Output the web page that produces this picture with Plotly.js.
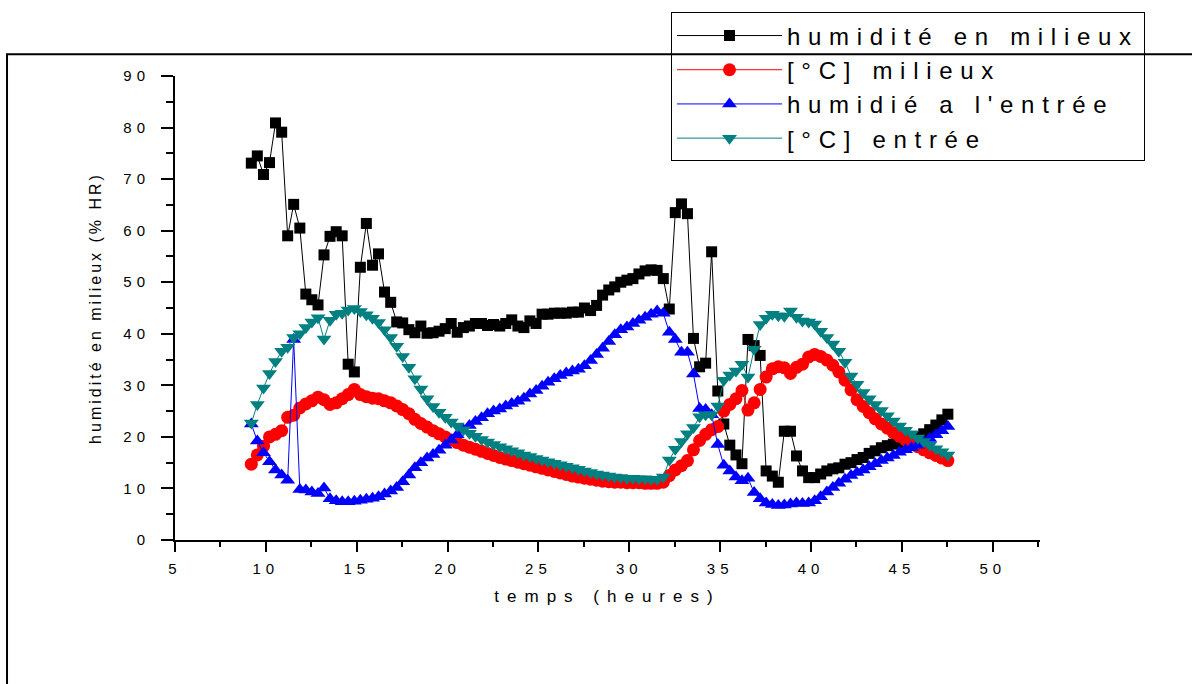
<!DOCTYPE html>
<html>
<head>
<meta charset="utf-8">
<script src="https://cdn.plot.ly/plotly-3.0.1.min.js"></script>
<style>
  html, body { margin: 0; padding: 0; background: #fff; }
  #chart { width: 1192px; height: 684px; }
  .xtick text, .ytick text { letter-spacing: 5px; }
  .legendtext { letter-spacing: 7.7px; }
  .g-xtitle text { letter-spacing: 8px; }
  .g-ytitle text { letter-spacing: 3px; }
</style>
</head>
<body>
<div id="chart"></div>
<script>
// time (heures)
const temps = [9.20, 9.53, 9.87, 10.20, 10.53, 10.87, 11.20, 11.53, 11.87, 12.20,
  12.53, 12.87, 13.20, 13.53, 13.87, 14.20, 14.53, 14.87, 15.20, 15.53,
  15.87, 16.20, 16.53, 16.87, 17.20, 17.53, 17.87, 18.20, 18.53, 18.87,
  19.20, 19.53, 19.87, 20.20, 20.53, 20.87, 21.20, 21.53, 21.87, 22.20,
  22.53, 22.87, 23.20, 23.53, 23.87, 24.20, 24.53, 24.87, 25.20, 25.53,
  25.87, 26.20, 26.53, 26.87, 27.20, 27.53, 27.87, 28.20, 28.53, 28.87,
  29.20, 29.53, 29.87, 30.20, 30.53, 30.87, 31.20, 31.53, 31.87, 32.20,
  32.53, 32.87, 33.20, 33.53, 33.87, 34.20, 34.53, 34.87, 35.20, 35.53,
  35.87, 36.20, 36.53, 36.87, 37.20, 37.53, 37.87, 38.20, 38.53, 38.87,
  39.20, 39.53, 39.87, 40.20, 40.53, 40.87, 41.20, 41.53, 41.87, 42.20,
  42.53, 42.87, 43.20, 43.53, 43.87, 44.20, 44.53, 44.87, 45.20, 45.53,
  45.87, 46.20, 46.53, 46.87, 47.20, 47.53];

// humidité en milieux (% HR)
const humMilieu = [73.1, 74.5, 70.9, 73.2, 80.9, 79.1, 59.0, 65.1, 60.5, 47.7,
  46.6, 45.6, 55.3, 58.9, 59.8, 59.0, 34.1, 32.6, 52.9, 61.4,
  53.3, 55.5, 48.1, 46.1, 42.3, 42.1, 40.8, 40.2, 41.5, 40.1,
  40.2, 40.5, 41.0, 42.0, 40.3, 41.2, 41.5, 42.0, 42.0, 41.6,
  41.8, 41.5, 42.0, 42.7, 41.5, 41.2, 42.5, 42.0, 43.8, 43.8,
  44.0, 44.0, 44.0, 44.2, 44.2, 45.0, 44.5, 45.5, 47.5, 48.5,
  49.1, 50.0, 50.4, 50.7, 51.6, 52.2, 52.4, 52.3, 50.7, 44.8,
  63.5, 65.2, 63.3, 39.1, 33.6, 34.3, 55.9, 28.9, 22.5, 18.4,
  16.5, 14.8, 38.9, 37.7, 35.8, 13.4, 12.4, 11.2, 21.1, 21.1,
  16.3, 13.4, 12.1, 12.1, 12.8, 13.4, 13.8, 14.0, 14.7, 15.0,
  15.6, 16.0, 16.8, 17.3, 17.9, 18.3, 18.6, 18.8, 19.0, 19.5,
  20.0, 20.6, 21.4, 22.3, 23.3, 24.4];

// [°C] milieux
const tempMilieu = [14.7, 16.5, 18.2, 20.0, 20.5, 21.2, 23.8, 24.2, 25.6, 26.4,
  27.0, 27.7, 27.2, 26.3, 26.6, 27.4, 28.2, 29.2, 28.2, 27.8,
  27.5, 27.4, 27.0, 26.6, 26.0, 25.3, 24.5, 23.4, 22.6, 21.9,
  21.2, 20.6, 20.0, 19.4, 18.9, 18.4, 18.0, 17.6, 17.2, 16.8,
  16.4, 16.0, 15.7, 15.4, 15.1, 14.8, 14.5, 14.2, 13.9, 13.6,
  13.3, 13.0, 12.7, 12.4, 12.2, 12.0, 11.8, 11.6, 11.4, 11.3,
  11.2, 11.2, 11.1, 11.1, 11.1, 11.0, 11.0, 11.0, 11.2, 12.5,
  13.6, 14.4, 15.4, 17.5, 19.3, 20.5, 21.4, 22.0, 25.0, 26.3,
  27.4, 29.0, 25.2, 26.6, 29.2, 31.6, 33.2, 33.6, 33.4, 32.3,
  33.5, 34.1, 35.5, 36.0, 35.6, 34.9, 33.9, 32.6, 31.0, 29.1,
  27.2, 25.9, 24.7, 23.5, 22.5, 21.7, 20.8, 20.1, 19.4, 18.6,
  18.1, 17.5, 16.9, 16.4, 15.9, 15.4];

// humidié a l'entrée
const humEntree = [22.5, 19.2, 16.9, 15.2, 13.6, 12.6, 11.6, 38.9, 9.8, 9.7,
  9.3, 9.0, 10.1, 8.0, 7.6, 7.4, 7.4, 7.5, 7.7, 7.9,
  8.1, 8.4, 8.9, 9.5, 10.2, 11.3, 12.6, 14.0, 15.0, 15.9,
  16.6, 17.4, 18.4, 19.4, 20.4, 21.4, 22.2, 23.0, 23.7, 24.5,
  25.0, 25.4, 26.0, 26.5, 26.9, 27.5, 28.3, 29.0, 29.8, 30.6,
  31.3, 31.9, 32.4, 32.8, 33.1, 33.8, 34.8, 36.0, 37.2, 38.5,
  39.8, 40.8, 41.3, 42.0, 42.6, 43.2, 43.8, 44.4, 44.0, 40.3,
  38.9, 36.4, 36.4, 32.2, 25.5, 25.3, 24.3, 18.5, 14.5, 13.4,
  12.2, 11.5, 12.0, 9.2, 8.0, 7.2, 6.9, 6.7, 6.8, 7.0,
  7.2, 7.1, 7.2, 7.6, 8.4, 9.3, 10.2, 11.0, 11.8, 12.5,
  13.1, 13.6, 14.2, 14.8, 15.4, 15.9, 16.4, 17.0, 17.5, 17.9,
  18.4, 19.0, 19.7, 20.4, 21.2, 22.0];

// [°C] entrée
const tempEntree = [22.7, 26.3, 29.5, 32.3, 34.6, 36.6, 37.4, 39.3, 40.0, 41.2,
  42.3, 43.1, 39.0, 42.6, 43.8, 44.0, 44.6, 44.9, 44.3, 43.7,
  43.0, 42.2, 40.8, 39.3, 37.6, 35.6, 33.5, 31.3, 29.3, 27.4,
  25.9, 24.8, 23.8, 22.9, 22.1, 21.4, 20.7, 20.1, 19.5, 19.0,
  18.5, 18.1, 17.7, 17.3, 16.9, 16.5, 16.2, 15.8, 15.5, 15.2,
  14.9, 14.6, 14.3, 14.0, 13.7, 13.4, 13.1, 12.8, 12.6, 12.4,
  12.2, 12.1, 12.0, 12.0, 11.9, 11.9, 11.8, 11.8, 12.2, 15.5,
  17.6, 19.1, 20.6, 21.8, 23.9, 24.3, 24.3, 26.0, 31.0, 32.0,
  32.8, 34.1, 31.6, 37.0, 41.8, 43.0, 43.8, 43.5, 43.4, 44.4,
  43.2, 42.5, 42.3, 41.9, 40.5, 39.3, 38.0, 36.6, 34.5, 31.8,
  30.2, 28.6, 27.4, 26.3, 25.1, 24.1, 23.1, 22.1, 21.3, 20.6,
  19.8, 19.1, 18.4, 17.7, 17.1, 16.5];

const seriesNames = ["humidité en milieux", "[°C] milieux", "humidié a l'entrée", "[°C] entrée"];
const xTitle = "temps (heures)";
const yTitle = "humidité en milieux (% HR)";

const FONT = "Liberation Sans, Arial, sans-serif";

const traces = [
  {x: temps, y: humMilieu, name: seriesNames[0], mode: "lines+markers",
   line: {color: "#000000", width: 1}, marker: {symbol: "square", size: 11, color: "#000000"}},
  {x: temps, y: tempMilieu, name: seriesNames[1], mode: "lines+markers",
   line: {color: "#ff0000", width: 1}, marker: {symbol: "circle", size: 13, color: "#ff0000"}},
  {x: temps, y: humEntree, name: seriesNames[2], mode: "lines+markers",
   line: {color: "#0000ff", width: 1}, marker: {symbol: "triangle-up", size: 13, color: "#0000ff"}},
  {x: temps, y: tempEntree, name: seriesNames[3], mode: "lines+markers",
   line: {color: "#008080", width: 1}, marker: {symbol: "triangle-down", size: 13, color: "#008080"}}
];

const layout = {
  width: 1192, height: 684,
  margin: {l: 175, r: 152, t: 70, b: 144},
  paper_bgcolor: "#ffffff", plot_bgcolor: "#ffffff",
  font: {family: FONT, color: "#000000"},
  showlegend: true,
  legend: {
    x: 0.5734, y: 1.137, xanchor: "left", yanchor: "top",
    bgcolor: "rgba(0,0,0,0)", bordercolor: "#000000", borderwidth: 1,
    font: {family: FONT, size: 24, color: "#000000"},
    itemwidth: 105
  },
  xaxis: {
    range: [5, 52.6], dtick: 5, tick0: 5,
    showgrid: false, zeroline: false,
    showline: true, linecolor: "#000000", linewidth: 2,
    ticks: "outside", ticklen: 10, tickwidth: 2, tickcolor: "#000000",
    minor: {ticks: "outside", ticklen: 5, tickwidth: 2, dtick: 2.5, tickcolor: "#000000"},
    tickfont: {family: FONT, size: 15, color: "#000000"},
    ticklabelstandoff: 4,
    title: {text: xTitle, font: {family: FONT, size: 17, color: "#000000"}, standoff: 14}
  },
  yaxis: {
    range: [0, 90], dtick: 10, tick0: 0,
    showgrid: false, zeroline: false,
    showline: true, linecolor: "#000000", linewidth: 2,
    ticks: "outside", ticklen: 12, tickwidth: 2, tickcolor: "#000000",
    minor: {ticks: "outside", ticklen: 7, tickwidth: 2, dtick: 5, tickcolor: "#000000"},
    tickfont: {family: FONT, size: 15, color: "#000000"},
    ticklabelstandoff: 8,
    title: {text: yTitle, font: {family: FONT, size: 16, color: "#000000"}, standoff: 18}
  },
  shapes: [
    {type: "rect", xref: "paper", yref: "paper",
     x0: -0.1942, x1: 1.2, y0: -0.4, y1: 1.0468,
     line: {color: "#000000", width: 2}, fillcolor: "rgba(0,0,0,0)", layer: "below"}
  ]
};

Plotly.newPlot("chart", traces, layout, {displayModeBar: false, staticPlot: true});
</script>
</body>
</html>
